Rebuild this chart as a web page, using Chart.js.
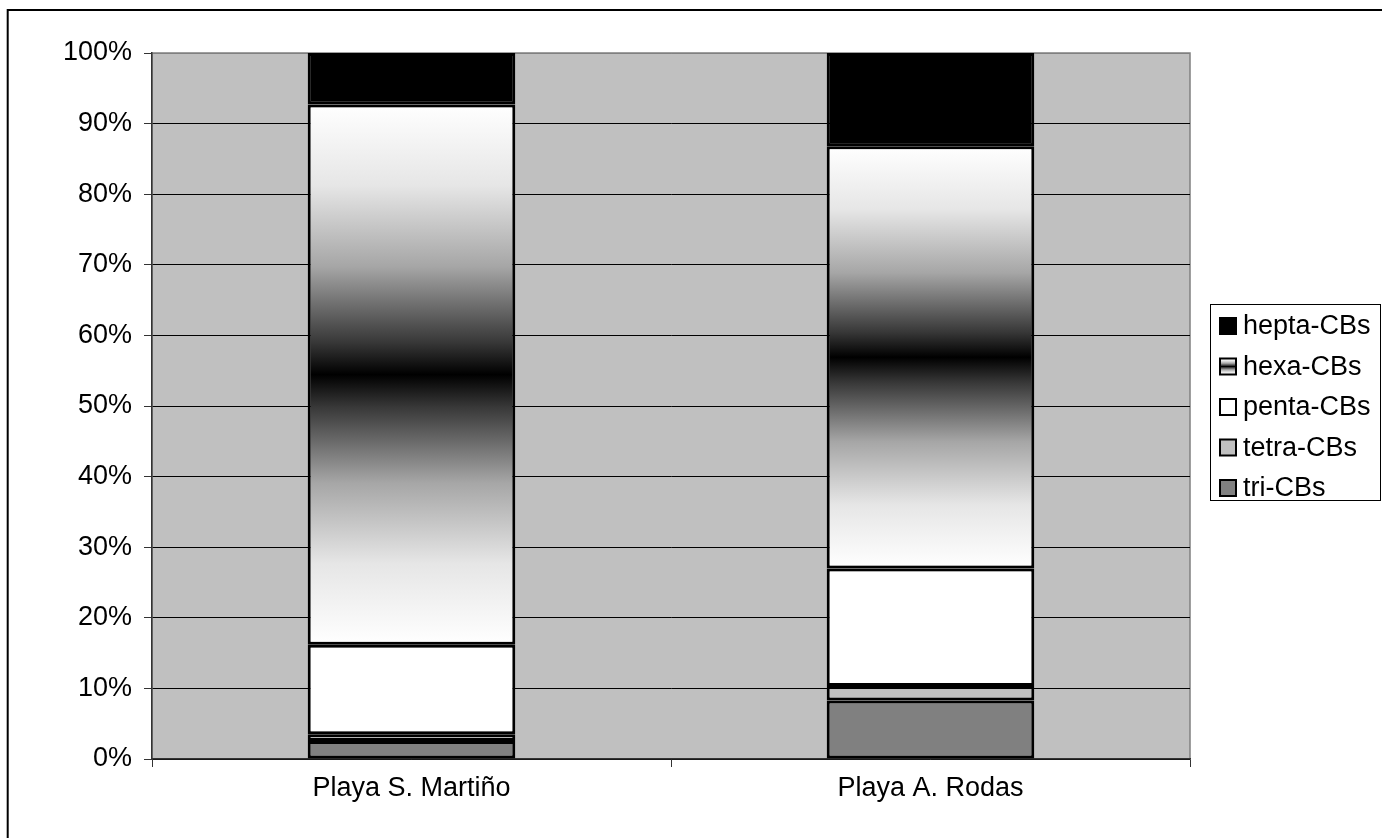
<!DOCTYPE html>
<html>
<head>
<meta charset="utf-8">
<script src="https://cdn.jsdelivr.net/npm/chart.js@4/dist/chart.umd.min.js"></script>
<style>
  body { margin: 0; background: #fff; }
  #wrap { width: 1382px; height: 838px; position: relative; }
</style>
</head>
<body>
<div id="wrap"><canvas id="pcbChart"></canvas></div>
<script>
// values, % of total per site
const sites = ['Playa S. Martiño', 'Playa A. Rodas'];
const tri = [2.55, 8.3];
const tetra = [0.95, 2.05];
const penta = [12.7, 16.65];
const hexa = [76.5, 59.8];
const hepta = [7.3, 13.2];
const yTicks = [0, 10, 20, 30, 40, 50, 60, 70, 80, 90, 100];

const FONT = { family: '"Liberation Sans", Arial, sans-serif', size: 27 };

// white -> black -> white, like the Excel fill
function hexaFill(ctx, y0, y1) {
    const g = ctx.createLinearGradient(0, y0, 0, y1);
    g.addColorStop(0, '#ffffff');
    g.addColorStop(0.15, '#e6e6e6');
    g.addColorStop(0.3, '#a6a6a6');
    g.addColorStop(0.44, '#383838');
    g.addColorStop(0.5, '#000000');
    g.addColorStop(0.56, '#383838');
    g.addColorStop(0.7, '#a6a6a6');
    g.addColorStop(0.85, '#e6e6e6');
    g.addColorStop(1, '#ffffff');
    return g;
}

function hexaColor(context) {
    const chart = context.chart;
    if (!chart.chartArea) return null;
    const i = context.dataIndex;
    const lo = tri[i] + tetra[i] + penta[i];
    const hi = lo + hexa[i];
    const y = chart.scales.y;
    return hexaFill(chart.ctx, y.getPixelForValue(lo), y.getPixelForValue(hi));
}

// grey plot background plus the outer frame
const plotBackground = {
    id: 'plotBackground',
    beforeDraw(chart) {
        const { ctx, chartArea: a } = chart;
        ctx.save();
        ctx.fillStyle = '#c0c0c0';
        ctx.fillRect(a.left, a.top, a.right - a.left, a.bottom - a.top);
        ctx.strokeStyle = '#808080';
        ctx.lineWidth = 1.5;
        ctx.strokeRect(a.left, a.top, a.right - a.left, a.bottom - a.top);
        ctx.strokeStyle = '#000';
        ctx.lineWidth = 2;
        ctx.beginPath();
        ctx.moveTo(7.7, 900);
        ctx.lineTo(7.7, 10);
        ctx.lineTo(1400, 10);
        ctx.stroke();
        ctx.restore();
    }
};

// legend box on the right, top entry = top of the stack
const boxLegend = {
    id: 'boxLegend',
    afterDraw(chart) {
        const { ctx } = chart;
        const sets = chart.data.datasets.slice().reverse();
        const left = 1210, top = 304, w = 170, h = 196;
        ctx.save();
        ctx.fillStyle = '#fff';
        ctx.fillRect(left, top, w, h);
        ctx.strokeStyle = '#000';
        ctx.lineWidth = 1;
        ctx.strokeRect(left + 0.5, top + 0.5, w, h);
        ctx.font = FONT.size + 'px ' + FONT.family;
        ctx.textBaseline = 'middle';
        sets.forEach((ds, k) => {
            const cy = 326 + k * 40.5;
            const sx = 1220, sy = cy - 8, s = 16;
            if (ds.label === 'hexa-CBs') {
                ctx.fillStyle = hexaFill(ctx, sy, sy + s);
            } else {
                ctx.fillStyle = ds.backgroundColor;
            }
            ctx.fillRect(sx, sy, s, s);
            ctx.lineWidth = 2;
            ctx.strokeStyle = '#000';
            ctx.strokeRect(sx, sy, s, s);
            ctx.fillStyle = '#000';
            ctx.fillText(ds.label, 1243, cy + 1);
        });
        ctx.restore();
    }
};

const barStyle = {
    borderColor: '#000',
    borderWidth: 3,
    borderSkipped: false,
    categoryPercentage: 1,
    barPercentage: 0.4
};

new Chart(document.getElementById('pcbChart'), {
    type: 'bar',
    data: {
        labels: sites,
        datasets: [
            { label: 'tri-CBs', data: tri, backgroundColor: '#808080', ...barStyle },
            { label: 'tetra-CBs', data: tetra, backgroundColor: '#c0c0c0', ...barStyle },
            { label: 'penta-CBs', data: penta, backgroundColor: '#ffffff', ...barStyle },
            { label: 'hexa-CBs', data: hexa, backgroundColor: hexaColor, ...barStyle },
            { label: 'hepta-CBs', data: hepta, backgroundColor: '#000000', ...barStyle }
        ]
    },
    options: {
        responsive: true,
        maintainAspectRatio: false,
        animation: false,
        layout: { padding: { top: 53, right: 192, bottom: 0, left: 0 } },
        plugins: {
            legend: { display: false },
            tooltip: { enabled: false }
        },
        scales: {
            x: {
                stacked: true,
                afterFit: (s) => { s.height = 79; },
                grid: {
                    offset: true,
                    drawOnChartArea: false,
                    drawTicks: true,
                    tickLength: 8,
                    tickColor: '#333'
                },
                border: { color: '#333', width: 1.5 },
                ticks: { color: '#000', font: FONT, padding: 5 }
            },
            y: {
                stacked: true,
                min: 0,
                max: 100,
                afterFit: (s) => { s.width = 152; },
                afterBuildTicks: (s) => { s.ticks = yTicks.map(v => ({ value: v })); },
                grid: {
                    color: (c) => (c.tick && c.tick.value === 100 ? '#808080' : '#000'),
                    lineWidth: 1,
                    tickLength: 8,
                    tickColor: '#333'
                },
                border: { color: '#333', width: 1.5 },
                ticks: {
                    color: '#000',
                    font: FONT,
                    padding: 12,
                    callback: (v) => v + '%'
                }
            }
        }
    },
    plugins: [plotBackground, boxLegend]
});
</script>
</body>
</html>
